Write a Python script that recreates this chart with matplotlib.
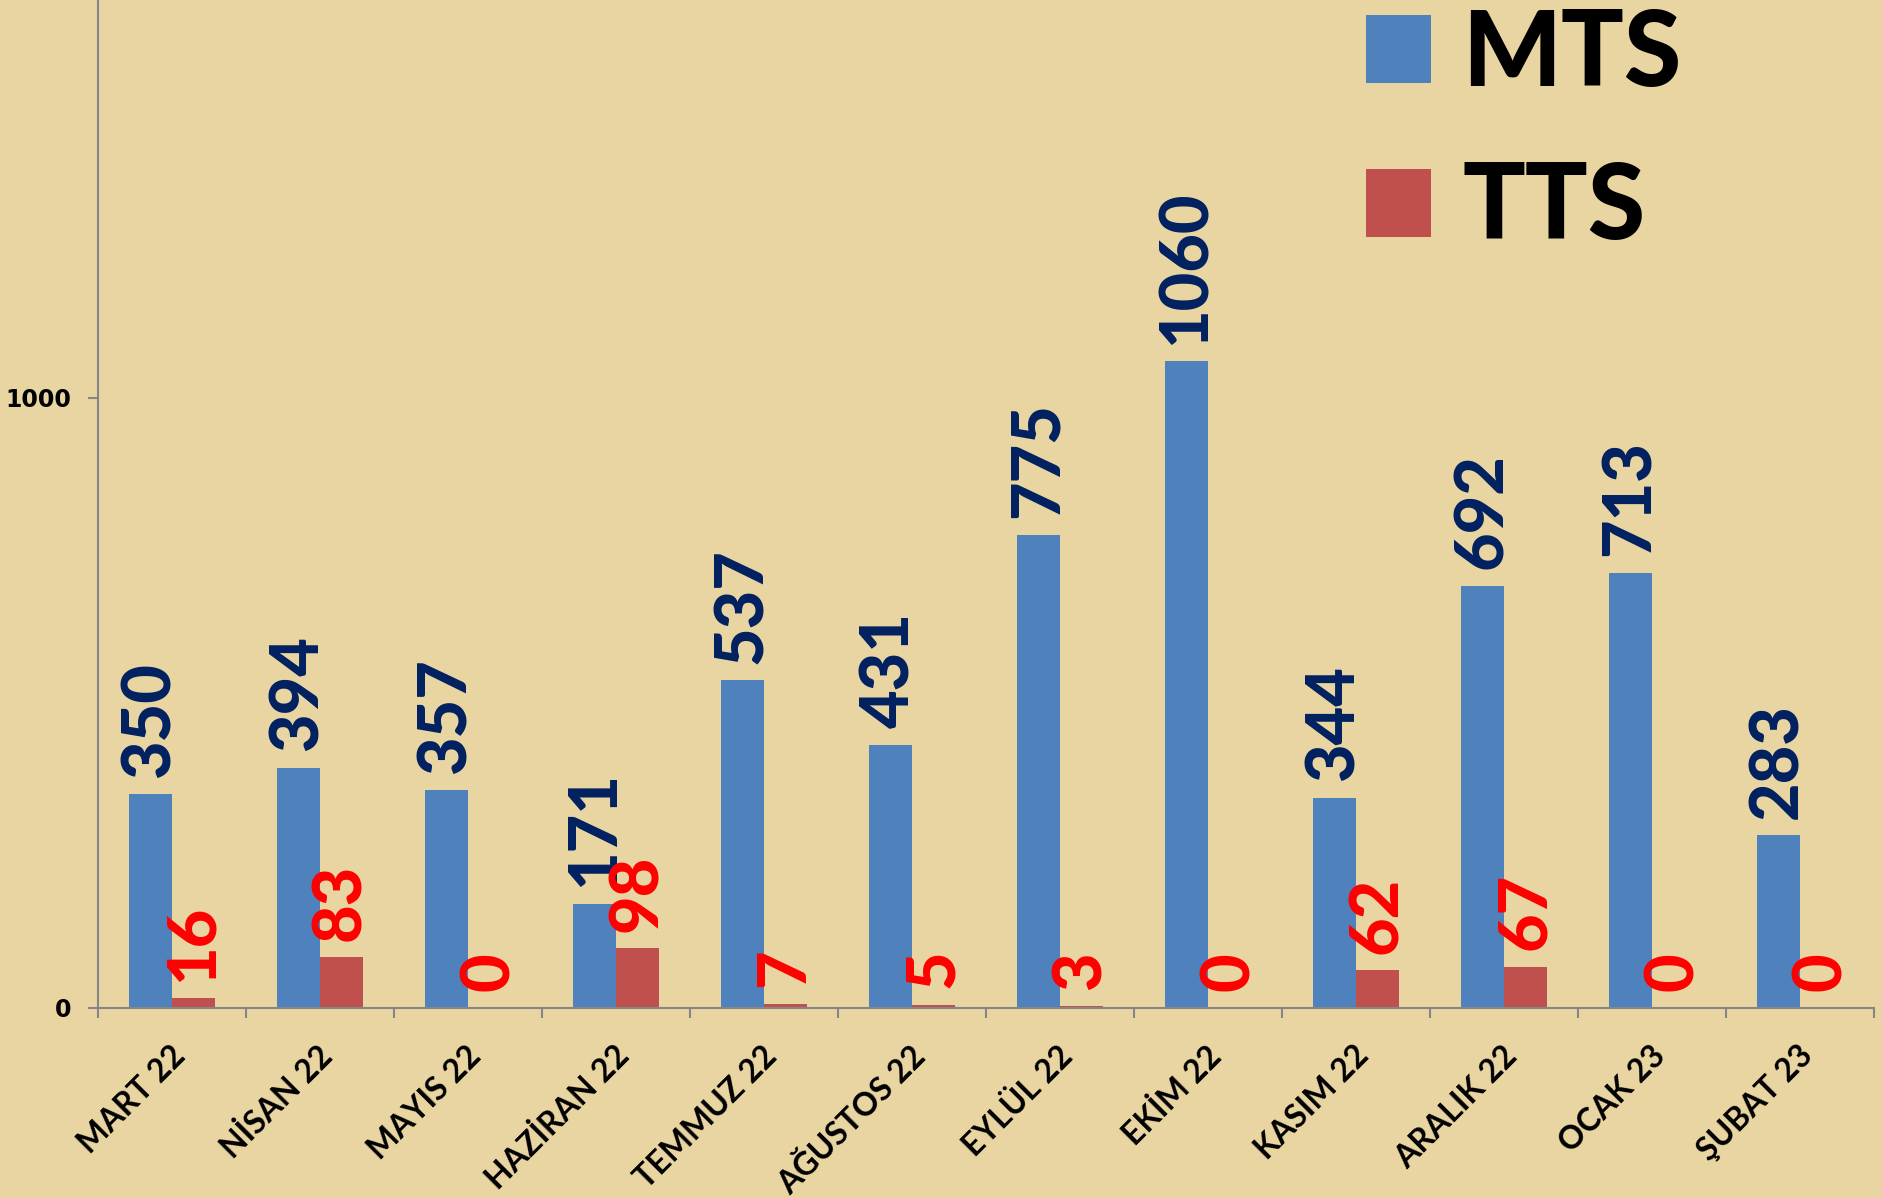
import matplotlib
matplotlib.use("Agg")
import matplotlib.pyplot as plt
import matplotlib.transforms as mtransforms
import numpy as np

# data
months = ['MART 22', 'NİSAN 22', 'MAYIS 22', 'HAZİRAN 22', 'TEMMUZ 22',
          'AĞUSTOS 22', 'EYLÜL 22', 'EKİM 22', 'KASIM 22', 'ARALIK 22',
          'OCAK 23', 'ŞUBAT 23']
mts = [350, 394, 357, 171, 537, 431, 775, 1060, 344, 692, 713, 283]
tts = [16, 83, 0, 98, 7, 5, 3, 0, 62, 67, 0, 0]
ytick_vals = [0, 1000]


def main():
    """Draw the grouped bar chart."""
    bg = '#E8D5A2'
    fig = plt.figure(figsize=(18.82, 11.98), dpi=100, facecolor=bg)
    ax = fig.add_axes([0.0521, 0.1586, 0.9437, 0.8414])
    ax.set_facecolor('none')

    x = np.arange(len(months))
    w = 0.29
    b1 = ax.bar(x - w / 2, mts, w, color='#4F81BD', label='MTS')
    b2 = ax.bar(x + w / 2, tts, w, color='#C0504D', label='TTS')

    for rect, v in zip(b1, mts):
        ax.annotate(str(v), (rect.get_x() + rect.get_width() / 2, v),
                    xytext=(0, 12), textcoords='offset points',
                    rotation=90, ha='center', va='bottom',
                    fontsize=48, fontweight='black', family='Lato',
                    color='#002060')
    for rect, v in zip(b2, tts):
        ax.annotate(str(v), (rect.get_x() + rect.get_width() / 2, v),
                    xytext=(0, 12), textcoords='offset points',
                    rotation=90, ha='center', va='bottom',
                    fontsize=48, fontweight='black', family='Lato',
                    color='#FF0000')

    ax.set_xlim(-0.5, len(months) - 0.5)
    ax.set_ylim(0, 1652)
    ax.set_yticks(ytick_vals)
    ax.set_yticklabels([str(v) for v in ytick_vals], fontsize=17,
                       fontweight='bold', family='DejaVu Sans')
    ax.tick_params(axis='y', length=7, width=1.5, color='#868686', pad=12)

    ax.set_xticks(x)
    ax.set_xticklabels(months, rotation=45, ha='right', va='center',
                       rotation_mode='anchor', fontsize=23,
                       fontweight='bold', family='Lato')
    ax.set_xticks(np.arange(-0.5, len(months)), minor=True)
    ax.tick_params(axis='x', which='major', length=0, pad=31)
    ax.tick_params(axis='x', which='minor', length=7, width=1.5,
                   color='#868686')
    shift = mtransforms.ScaledTranslation(8 / 100, 0, fig.dpi_scale_trans)
    for lab in ax.get_xticklabels():
        lab.set_transform(lab.get_transform() + shift)

    for s in ['top', 'right']:
        ax.spines[s].set_visible(False)
    for s in ['left', 'bottom']:
        ax.spines[s].set_color('#868686')
        ax.spines[s].set_linewidth(1.5)

    ax.legend(handles=[b1, b2], loc='upper left',
              bbox_to_anchor=(1366 / 1882, 1 - 8 / 1198),
              bbox_transform=fig.transFigure,
              frameon=False, prop={'family': 'Lato', 'weight': 'black',
                                   'size': 75},
              handlelength=0.625, handleheight=0.625, handletextpad=0.3,
              labelspacing=0.56, borderpad=0, borderaxespad=0)

    fig.savefig('out.png', dpi=100, facecolor=bg)


if __name__ == "__main__":
    main()
